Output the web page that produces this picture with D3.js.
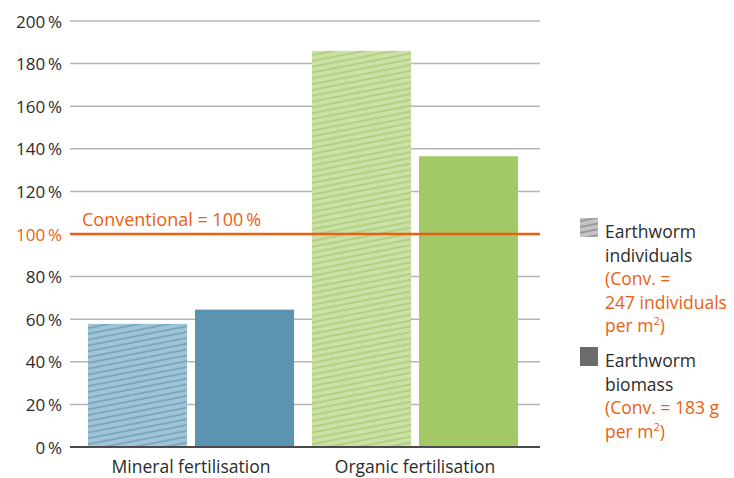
<!DOCTYPE html>
<html>
<head>
<meta charset="utf-8">
<script src="https://cdn.jsdelivr.net/npm/d3@7"></script>
<style>
  body { margin: 0; background: #fff; }
  svg text { font-family: "Open Sans", Lato, sans-serif; }
</style>
</head>
<body>
<svg id="chart"></svg>
<script>
// data
let categories = ['Mineral fertilisation', 'Organic fertilisation']
let seriesNames = ['individuals', 'biomass']
let individuals = [57.8, 186]
let biomass = [64.5, 136.5]
let yTicks = [0, 20, 40, 60, 80, 100, 120, 140, 160, 180, 200]
let legendIndividuals = ['Earthworm', 'individuals']
let legendIndividualsNote = ['(Conv. =', '247 individuals', 'per m']
let legendBiomass = ['Earthworm', 'biomass']
let legendBiomassNote = ['(Conv. = 183 g', 'per m']

let width = 734
let height = 478
let orange = '#ec5f10'

let colors = {
  'Mineral fertilisation': { light: '#a0c3d6', dark: '#5b94b1' },
  'Organic fertilisation': { light: '#cae0a6', dark: '#a3c966' }
}

let svg = d3.select('#chart')
  .attr('width', width)
  .attr('height', height)

let yScale = d3.scaleLinear()
  .domain([0, 200])
  .range([447, 21])

let x0 = d3.scaleBand()
  .domain(categories)
  .range([79, 527])
  .paddingInner(0.08)
  .paddingOuter(0.04)

let x1 = d3.scaleBand()
  .domain(seriesNames)
  .range([0, x0.bandwidth()])
  .paddingInner(0.075)

// hatch patterns
let defs = svg.append('defs')
let makeHatch = (id, bg, line) => {
  let p = defs.append('pattern')
    .attr('id', id)
    .attr('patternUnits', 'userSpaceOnUse')
    .attr('width', 8)
    .attr('height', 5.7)
    .attr('patternTransform', 'rotate(-11)')
  p.append('rect').attr('width', 8).attr('height', 5.7).attr('fill', bg)
  p.append('line')
    .attr('x1', 0).attr('x2', 8)
    .attr('y1', 2.85).attr('y2', 2.85)
    .attr('stroke', line)
    .attr('stroke-width', 0.9)
}
makeHatch('hatch-min', colors['Mineral fertilisation'].light, '#4a88a8')
makeHatch('hatch-org', colors['Organic fertilisation'].light, '#93bf52')
makeHatch('hatch-leg', '#c4c4c4', '#6a6a6a')

// gridlines
svg.append('g')
  .selectAll('line')
  .data(yTicks.filter(d => d !== 0 && d !== 100))
  .enter()
  .append('line')
  .attr('x1', 70)
  .attr('x2', 540)
  .attr('y1', d => yScale(d))
  .attr('y2', d => yScale(d))
  .attr('stroke', '#b5b5b5')
  .attr('stroke-width', 1.5)

// y axis labels
let yAxis = d3.axisLeft(yScale)
  .tickValues(yTicks)
  .tickSize(0)
  .tickPadding(0)
  .tickFormat(d => d + '\u2009%')

let yAxisG = svg.append('g')
  .attr('id', 'y-axis')
  .attr('transform', 'translate(62,0)')
  .call(yAxis)
yAxisG.select('.domain').remove()
yAxisG.selectAll('text')
  .attr('font-size', 17)
  .attr('fill', d => d === 100 ? orange : '#2b2b2b')
  .attr('dy', '0.36em')

// bars
let rows = categories.map((c, i) => ({ cat: c, values: [
  { s: 'individuals', v: individuals[i] },
  { s: 'biomass', v: biomass[i] }
] }))

let groups = svg.append('g')
  .selectAll('g')
  .data(rows)
  .enter()
  .append('g')
  .attr('transform', d => 'translate(' + x0(d.cat) + ',0)')

groups.selectAll('rect')
  .data(d => d.values.map(v => ({ cat: d.cat, s: v.s, v: v.v })))
  .enter()
  .append('rect')
  .attr('x', d => x1(d.s))
  .attr('width', x1.bandwidth())
  .attr('y', d => yScale(d.v))
  .attr('height', d => yScale(0) - yScale(d.v))
  .attr('fill', d => {
    if (d.s === 'biomass') return colors[d.cat].dark
    return d.cat === categories[0] ? 'url(#hatch-min)' : 'url(#hatch-org)'
  })

// zero line
svg.append('line')
  .attr('x1', 70).attr('x2', 540)
  .attr('y1', yScale(0)).attr('y2', yScale(0))
  .attr('stroke', '#4a4a4a')
  .attr('stroke-width', 2)

// conventional line
svg.append('line')
  .attr('x1', 70).attr('x2', 540)
  .attr('y1', yScale(100)).attr('y2', yScale(100))
  .attr('stroke', orange)
  .attr('stroke-width', 2.5)

svg.append('text')
  .attr('x', 82)
  .attr('y', yScale(100) - 8)
  .attr('font-size', 18)
  .attr('fill', orange)
  .text('Conventional = 100\u2009%')

// category labels
svg.append('g')
  .selectAll('text')
  .data(categories)
  .enter()
  .append('text')
  .attr('x', d => x0(d) + x0.bandwidth() / 2)
  .attr('y', 473)
  .attr('text-anchor', 'middle')
  .attr('font-size', 17.5)
  .attr('fill', '#2b2b2b')
  .text(d => d)

// legend
let drawLegend = (y0, fill, dark, note) => {
  svg.append('rect')
    .attr('x', 580).attr('y', y0)
    .attr('width', 18).attr('height', 19)
    .attr('fill', fill)
  let lines = dark.map(t => ({ t: t, c: '#2b2b2b' }))
    .concat(note.map(t => ({ t: t, c: orange })))
  lines.forEach((l, i) => {
    let txt = svg.append('text')
      .attr('x', 605)
      .attr('y', y0 + 20 + i * 23.6)
      .attr('font-size', 17.5)
      .attr('fill', l.c)
      .text(l.t)
    if (i === lines.length - 1) {
      txt.append('tspan').attr('font-size', 11).attr('dy', -7).text('2')
      txt.append('tspan').attr('dy', 7).text(')')
    }
  })
}
drawLegend(218, 'url(#hatch-leg)', legendIndividuals, legendIndividualsNote)
drawLegend(347, '#6b6b6b', legendBiomass, legendBiomassNote)
</script>
</body>
</html>
